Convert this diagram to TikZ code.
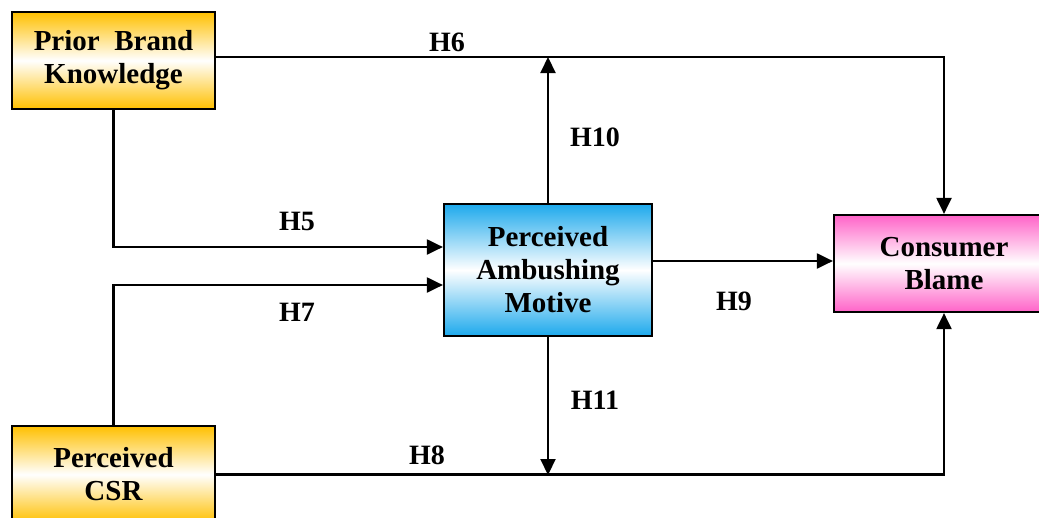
\documentclass[tikz,border=0pt]{standalone}
\usepackage{fontspec}
\setmainfont{Liberation Serif}
\usetikzlibrary{arrows.meta}
\definecolor{boxorange}{HTML}{FFC000}
\definecolor{boxblue}{HTML}{1DA9EC}
\definecolor{boxpink}{HTML}{FF63C8}
\begin{document}
\begin{tikzpicture}[x=1pt,y=-1pt,
  construct/.style={draw=black, line width=2.2pt, rectangle, align=center,
    font=\fontsize{29}{33}\selectfont\bfseries, inner sep=0pt},
  orangebox/.style={construct, top color=boxorange, bottom color=boxorange, middle color=white},
  bluebox/.style={construct, top color=boxblue, bottom color=boxblue, middle color=white},
  pinkbox/.style={construct, top color=boxpink, bottom color=boxpink, middle color=white},
  link/.style={line width=2.1pt, -{Triangle[length=16pt,width=15pt]}},
  hyp/.style={font=\fontsize{28}{32}\selectfont\bfseries, inner sep=0pt}]
\useasboundingbox (0,0) rectangle (1039,517);
\begin{scope}
\clip (0,0) rectangle (1039,517);

% constructs
\node[orangebox, minimum width=203pt, minimum height=97pt] (pbk) at (113.5,60.5) {Prior\ \ Brand\\Knowledge};
\node[orangebox, minimum width=203pt, minimum height=97pt] (csr) at (113.5,474.5) {Perceived\\CSR};
\node[bluebox, minimum width=208pt, minimum height=132pt] (pam) at (548,270) {Perceived\\Ambushing\\Motive};
\node[pinkbox, minimum width=220pt, minimum height=97pt] (cb) at (944,263.5) {Consumer\\Blame};

% points where the moderating paths meet the direct paths
\coordinate (top) at (548,57);
\coordinate (bottom) at (548,475);

% paths
\draw[link] ([yshift=3.5pt]pbk.east) -| (cb.north);
\draw[link] (csr.east) -| (cb.south);
\draw[link] (pbk.south) |- ([yshift=23pt]pam.west);
\draw[link] (csr.north) |- ([yshift=-15pt]pam.west);
\draw[link] ([yshift=9pt]pam.east) -- ([yshift=2.5pt]cb.west);
\draw[link] (pam.north) -- (top);
\draw[link] (pam.south) -- (bottom);
\end{scope}

% hypothesis labels
\node[hyp] (h6) at (447,42) {H6};
\node[hyp] (h10) at (595,137) {H10};
\node[hyp] (h5) at (297,221) {H5};
\node[hyp] (h7) at (297,312) {H7};
\node[hyp] (h9) at (734,301) {H9};
\node[hyp] (h11) at (595,400) {H11};
\node[hyp] (h8) at (427,455) {H8};
\end{tikzpicture}
\end{document}
